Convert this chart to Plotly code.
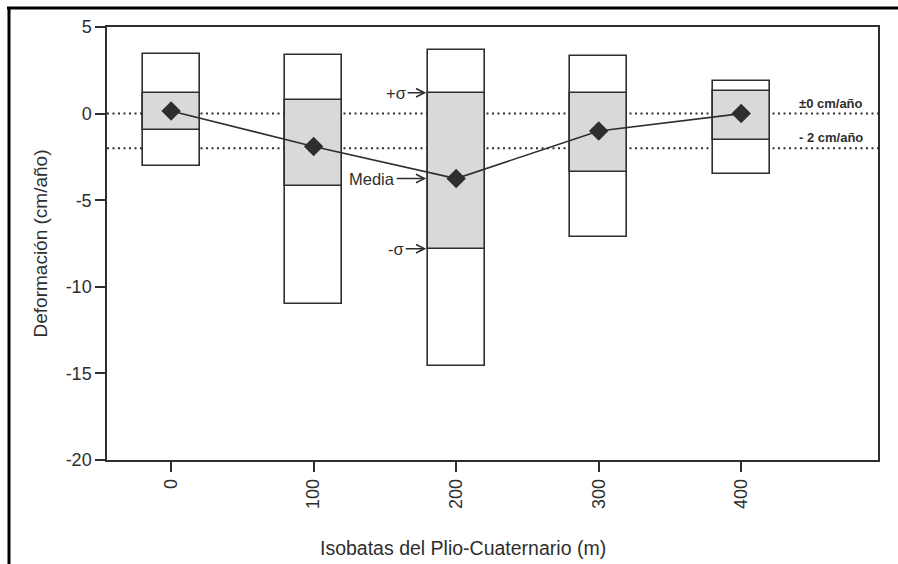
import plotly.graph_objects as go

# Isobath depths (m) and deformation statistics (cm/año)
isobatas = [0, 100, 200, 300, 400]
media = [0.15, -1.9, -3.75, -1.0, 0.0]
sigma_sup = [1.2, 0.8, 1.2, 1.2, 1.3]
sigma_inf = [-0.95, -4.2, -7.8, -3.4, -1.5]
maximo = [3.45, 3.4, 3.7, 3.35, 1.9]
minimo = [-3.0, -11.0, -14.6, -7.1, -3.5]

ref_lines = [0, -2]
ref_labels = ["±0 cm/año", "- 2 cm/año"]

y_ticks = [5, 0, -5, -10, -15, -20]
x_ticks = [0, 100, 200, 300, 400]

W, H = 898, 564
L, R, T, B = 107, 878, 27, 460
INK = "#2e2e2e"
FILL = "#d9d9d9"
BOX_W = 40


def px(xp):
    return (xp - L) / (R - L)


def py(yp):
    return (B - yp) / (B - T)


fig = go.Figure()

# full range (min..max) boxes
fig.add_trace(go.Bar(
    x=isobatas, base=minimo, y=[a - b for a, b in zip(maximo, minimo)],
    width=BOX_W, marker=dict(color="white", line=dict(color=INK, width=1.6)),
    hoverinfo="skip", showlegend=False))

# ±sigma boxes
fig.add_trace(go.Bar(
    x=isobatas, base=sigma_inf, y=[a - b for a, b in zip(sigma_sup, sigma_inf)],
    width=BOX_W, marker=dict(color=FILL, line=dict(color=INK, width=1.6)),
    hoverinfo="skip", showlegend=False))

# mean values
fig.add_trace(go.Scatter(
    x=isobatas, y=media, mode="lines+markers",
    line=dict(color=INK, width=1.6),
    marker=dict(symbol="diamond", size=15, color=INK),
    hoverinfo="skip", showlegend=False))

shapes = []
for v in ref_lines:
    shapes.append(dict(type="line", xref="paper", yref="y", x0=0, x1=1, y0=v, y1=v,
                       line=dict(color=INK, width=2, dash="2px,3.5px"), layer="below"))

# page frame (top and left rules)
shapes.append(dict(type="line", xref="paper", yref="paper",
                   x0=px(7), x1=px(900), y0=py(8), y1=py(8),
                   line=dict(color="black", width=3)))
shapes.append(dict(type="line", xref="paper", yref="paper",
                   x0=px(9), x1=px(9), y0=py(7), y1=py(566),
                   line=dict(color="black", width=3)))

annotations = []
for v, txt in zip(ref_lines, ref_labels):
    annotations.append(dict(x=463, y=v, xref="x", yref="y", text="<b>" + txt + "</b>",
                            showarrow=False, yanchor="bottom", yshift=1,
                            font=dict(size=13, color=INK)))

# labels with arrows on the 200 m box
left_edge = isobatas[2] - BOX_W / 2 - 1
arrows = [("+σ", sigma_sup[2], -30), ("Media", media[2], -54), ("-σ", sigma_inf[2], -30)]
for txt, yv, ax in arrows:
    annotations.append(dict(x=left_edge, y=yv, xref="x", yref="y", text=txt,
                            showarrow=True, ax=ax, ay=0, arrowhead=5, arrowsize=1.1,
                            arrowwidth=1.5, arrowcolor=INK,
                            font=dict(size=16.5, color=INK)))

# x-axis title
annotations.append(dict(x=px(463), y=py(548), xref="paper", yref="paper",
                        text="Isobatas del Plio-Cuaternario (m)", showarrow=False,
                        xanchor="center", yanchor="middle",
                        font=dict(size=19.5, color=INK)))

fig.update_layout(
    width=W, height=H,
    margin=dict(l=L, r=W - R, t=T, b=H - B, pad=0),
    paper_bgcolor="white", plot_bgcolor="white",
    barmode="overlay", bargap=0,
    font=dict(family="Liberation Sans, Arial, sans-serif", color=INK),
    shapes=shapes, annotations=annotations,
    xaxis=dict(range=[-45, 496], tickvals=x_ticks, ticktext=[str(t) for t in x_ticks],
               tickangle=-90, ticks="outside", ticklen=10, tickwidth=1.5, tickcolor=INK,
               showline=True, linecolor=INK, linewidth=1.5, mirror=True,
               showgrid=False, zeroline=False, tickfont=dict(size=18)),
    yaxis=dict(range=[-20, 5], tickvals=y_ticks, ticktext=[str(t) for t in y_ticks],
               ticks="outside", ticklen=10, tickwidth=1.5, tickcolor=INK,
               showline=True, linecolor=INK, linewidth=1.5, mirror=True,
               showgrid=False, zeroline=False, tickfont=dict(size=18),
               title=dict(text="Deformación (cm/año)", font=dict(size=19), standoff=13)),
)

fig.write_html("out.html")
